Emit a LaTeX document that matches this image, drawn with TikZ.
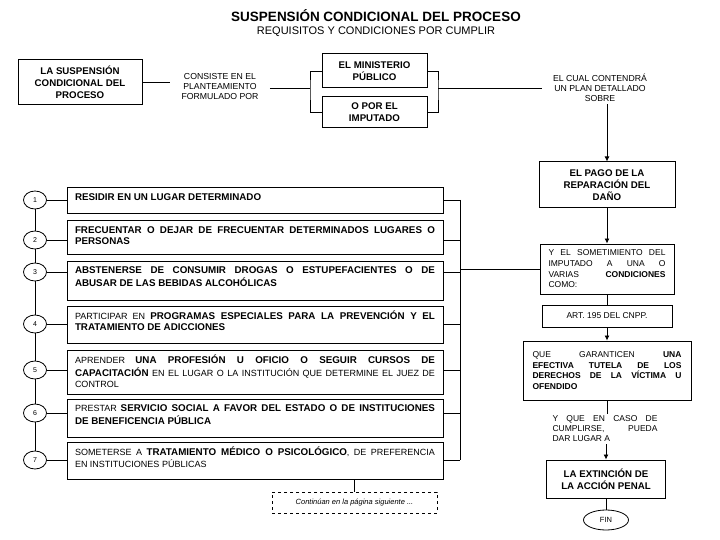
\documentclass[tikz,border=0pt]{standalone}
\usepackage{fontspec}
\setmainfont{Liberation Sans}
\usetikzlibrary{shapes.geometric, arrows.meta, positioning}

\newcommand{\condtxt}[2]{\begin{minipage}[c][#1][t]{360pt}\fontsize{9}{11}\selectfont\vspace*{5pt}\strut#2\end{minipage}}
\newcommand{\hb}[1]{{\fontsize{9.8}{11}\selectfont\bfseries #1}}

\begin{document}
\begin{tikzpicture}[
  x=1pt, y=1pt, line width=0.8pt,
  node distance = 10pt,
  box/.style = {draw, line width=1pt, align=center,
                font=\bfseries\fontsize{9.7}{12}\selectfont},
  regbox/.style = {draw, line width=1pt, align=center,
                font=\fontsize{8.5}{10}\selectfont},
  jbox/.style = {draw, line width=1pt, align=justify,
                font=\fontsize{8.5}{10.7}\selectfont},
  cond/.style = {draw, line width=1pt, inner xsep=8pt, inner ysep=0pt},
  num/.style = {ellipse, draw, fill=white, minimum width=23pt, minimum height=18pt,
                inner sep=0pt, font=\fontsize{7}{8}\selectfont},
  txt/.style = {align=center, inner xsep=11pt, inner ysep=2pt,
                font=\fontsize{8.7}{10}\selectfont},
  jtxt/.style = {align=justify, inner sep=2pt, font=\fontsize{8.5}{10}\selectfont},
  note/.style = {draw, dashed, line width=0.6pt, minimum width=165pt, minimum height=21pt,
                font=\itshape\fontsize{7.5}{9}\selectfont},
  arr/.style = {-{Latex[length=5pt, width=5pt]}}
]
  \useasboundingbox (0,0) rectangle (720,-540);

  \node[anchor=base, font=\bfseries\fontsize{13.5}{16}\selectfont] (title) at (376,-22)
    {SUSPENSIÓN CONDICIONAL DEL PROCESO};
  \node[anchor=base, font=\fontsize{11}{13}\selectfont] (subtitle) at (376,-34.5)
    {REQUISITOS Y CONDICIONES POR CUMPLIR};

  % top row
  \node[box, minimum width=124pt, minimum height=45pt] (susp) at (80,-82.5)
    {LA SUSPENSIÓN\\CONDICIONAL DEL\\PROCESO};
  \node[txt] (cons) at (220,-87) {CONSISTE EN EL\\PLANTEAMIENTO\\FORMULADO POR};
  \node[box, minimum width=105pt, minimum height=34pt] (mp) at (374.5,-71)
    {EL MINISTERIO\\PÚBLICO};
  \node[box, minimum width=105pt, minimum height=31pt] (imp) at (374.5,-112.5)
    {O POR EL\\IMPUTADO};
  \node[txt] (cual) at (600,-88) {EL CUAL CONTENDRÁ\\UN PLAN DETALLADO\\SOBRE};
  \coordinate (lb) at (310,-88);
  \coordinate (rbk) at (438,-88);

  \draw (susp.east) -- (susp.east -| cons.west);
  \draw (cons.east |- lb) -- (lb);
  \draw (mp.west) -| (lb) |- (imp.west);
  \draw (mp.east) -| (rbk) |- (imp.east);
  \draw (rbk) -- (rbk -| cual.west);

  % right column
  \node[box, minimum width=136pt, minimum height=46pt] (pago) at (607,-185)
    {EL PAGO DE LA\\REPARACIÓN DEL\\DAÑO};
  \node[jbox, text width=117pt, minimum width=134pt, minimum height=50pt, below=35pt of pago] (som)
    {Y EL SOMETIMIENTO DEL\linebreak IMPUTADO A UNA O\linebreak VARIAS \textbf{CONDICIONES}\linebreak COMO:};
  \node[regbox, minimum width=130pt, minimum height=22pt, below=10pt of som] (art)
    {ART. 195 DEL CNPP.};
  \node[jbox, text width=149pt, minimum width=168pt, minimum height=59pt, below=13pt of art] (gar)
    {QUE GARANTICEN \textbf{UNA}\linebreak \textbf{EFECTIVA TUTELA DE LOS}\linebreak
     \textbf{DERECHOS DE LA VÍCTIMA U}\linebreak \textbf{OFENDIDO}};
  \node[jtxt, text width=105pt] (yq) at (605,-429)
    {Y QUE EN CASO DE\linebreak CUMPLIRSE, PUEDA\linebreak DAR LUGAR A};
  \node[box, minimum width=119pt, minimum height=38pt] (ext) at (606,-479)
    {LA EXTINCIÓN DE\\LA ACCIÓN PENAL};
  \node[ellipse, draw, minimum width=45pt, minimum height=20pt, inner sep=0pt,
        font=\fontsize{7.5}{9}\selectfont] (fin) at (606,-520) {FIN};

  \draw[arr] (pago.north |- cual.south) -- (pago.north);
  \draw[arr] (pago.south) -- (som.north);
  \draw (som.south) -- (art.north);
  \draw[arr] (art.south) -- (gar.north);
  \draw (gar.south) -- (gar.south |- yq.north);
  \draw[arr] (ext.north |- yq.south) -- (ext.north);
  \draw (ext.south) -- (fin.north);

  % conditions
  \node[cond] (b1) at (255,-201) {\condtxt{26pt}{\hb{RESIDIR EN UN LUGAR DETERMINADO}}};
  \node[cond] (b2) at (255,-237.5) {\condtxt{33pt}{\hb{FRECUENTAR O DEJAR DE FRECUENTAR DETERMINADOS LUGARES O}\linebreak
    \hb{PERSONAS}}};
  \node[cond] (b3) at (255,-280.5) {\condtxt{39pt}{\hb{ABSTENERSE DE CONSUMIR DROGAS O ESTUPEFACIENTES O DE}\linebreak
    \hb{ABUSAR DE LAS BEBIDAS ALCOHÓLICAS}}};
  \node[cond] (b4) at (255,-324.5) {\condtxt{37pt}{PARTICIPAR EN \hb{PROGRAMAS ESPECIALES PARA LA PREVENCIÓN Y EL}\linebreak
    \hb{TRATAMIENTO DE ADICCIONES}}};
  \node[cond] (b5) at (255,-372) {\condtxt{44pt}{APRENDER \hb{UNA PROFESIÓN U OFICIO O SEGUIR CURSOS DE}\linebreak
    \hb{CAPACITACIÓN} EN EL LUGAR O LA INSTITUCIÓN QUE DETERMINE EL JUEZ DE\linebreak CONTROL}};
  \node[cond] (b6) at (255,-418) {\condtxt{38pt}{PRESTAR \hb{SERVICIO SOCIAL A FAVOR DEL ESTADO O DE INSTITUCIONES}\linebreak
    \hb{DE BENEFICENCIA PÚBLICA}}};
  \node[cond] (b7) at (255,-460.5) {\condtxt{37pt}{SOMETERSE A \hb{TRATAMIENTO MÉDICO O PSICOLÓGICO}, DE PREFERENCIA\linebreak
    EN INSTITUCIONES PÚBLICAS}};

  \foreach \i/\y in {1/200, 2/240, 3/272, 4/324, 5/370, 6/413, 7/460}
    \node[num] (n\i) at (35,-\y) {\i};

  \coordinate (rt) at (460,-200);
  \coordinate (rbt) at (460,-460);

  \foreach \a/\b in {1/2, 2/3, 3/4, 4/5, 5/6, 6/7}
    \draw (n\a) -- (n\b);
  \foreach \i in {1,...,7} {
    \draw (n\i) -- (n\i -| b\i.west);
    \draw (n\i -| b\i.east) -- (n\i -| rt);
  }
  \draw (rt) -- (rbt);
  \draw (som.west -| rt) -- (som.west);

  \node[note] (cont) at (354.5,-502.5) {Continúan en la página siguiente ...};
  \draw (cont.north) -- (cont.north |- b7.south);
\end{tikzpicture}
\end{document}
